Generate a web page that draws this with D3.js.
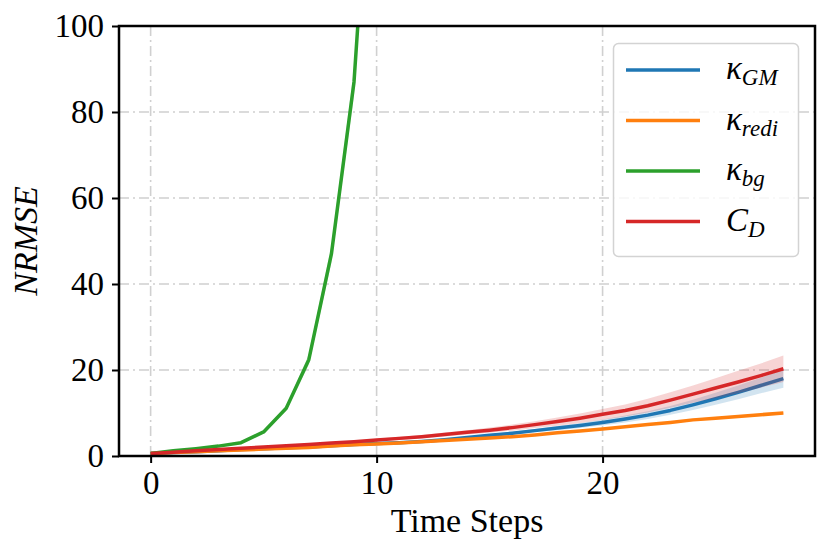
<!DOCTYPE html>
<html>
<head>
<meta charset="utf-8">
<script src="https://cdn.jsdelivr.net/npm/d3@7"></script>
<style>
  body { margin: 0; background: #fff; }
  svg { display: block; }
</style>
</head>
<body>
<div id="d1"></div>
<script>
// time steps 0..28
const steps = d3.range(0, 29);
const gm = [0.6, 0.8, 1.0, 1.2, 1.5, 1.7, 1.9, 2.1, 2.4, 2.7, 2.9, 3.1, 3.4, 3.8, 4.3,
            4.8, 5.3, 5.9, 6.5, 7.1, 7.8, 8.6, 9.5, 10.6, 11.9, 13.3, 14.8, 16.4, 18.0];
const gmSd = [0.05, 0.05, 0.05, 0.05, 0.1, 0.1, 0.1, 0.1, 0.1, 0.1, 0.15, 0.15, 0.2, 0.2, 0.25,
              0.3, 0.35, 0.4, 0.5, 0.6, 0.7, 0.8, 0.9, 1.0, 1.2, 1.4, 1.6, 1.8, 2.1];
const redi = [0.6, 0.8, 1.0, 1.2, 1.4, 1.6, 1.8, 2.0, 2.3, 2.6, 2.8, 3.0, 3.3, 3.6, 3.9,
              4.2, 4.5, 4.9, 5.4, 5.8, 6.3, 6.8, 7.3, 7.8, 8.4, 8.8, 9.2, 9.6, 10.0];
const rediSd = [0.05, 0.05, 0.05, 0.05, 0.05, 0.05, 0.05, 0.05, 0.1, 0.1, 0.1, 0.1, 0.1, 0.1, 0.1,
                0.15, 0.15, 0.15, 0.15, 0.2, 0.2, 0.2, 0.2, 0.25, 0.25, 0.25, 0.3, 0.3, 0.3];
const bgSteps = d3.range(0, 11);
const bg = [0.6, 1.2, 1.7, 2.3, 3.1, 5.6, 11.1, 22.4, 47, 87, 165];
const bgSd = [0, 0.05, 0.1, 0.1, 0.2, 0.3, 0.6, 1.2, 2, 3, 5];
const cd = [0.6, 0.9, 1.2, 1.5, 1.8, 2.1, 2.4, 2.7, 3.0, 3.3, 3.7, 4.1, 4.5, 5.0, 5.5,
            6.0, 6.6, 7.3, 8.0, 8.8, 9.7, 10.6, 11.7, 13.0, 14.4, 15.8, 17.2, 18.7, 20.3];
const cdSd = [0.05, 0.05, 0.1, 0.1, 0.1, 0.15, 0.15, 0.2, 0.2, 0.25, 0.3, 0.35, 0.4, 0.45, 0.5,
              0.6, 0.7, 0.8, 0.95, 1.1, 1.25, 1.4, 1.6, 1.8, 2.0, 2.3, 2.6, 2.8, 3.1];
const xTicks = [0, 10, 20];
const yTicks = [0, 20, 40, 60, 80, 100];

const series = [
  { name: "GM", sym: "κ", t: steps, v: gm, sd: gmSd, color: "#1f77b4" },
  { name: "redi", sym: "κ", t: steps, v: redi, sd: rediSd, color: "#ff7f0e" },
  { name: "bg", sym: "κ", t: bgSteps, v: bg, sd: bgSd, color: "#2ca02c" },
  { name: "D", sym: "C", t: steps, v: cd, sd: cdSd, color: "#d62728" }
];

const width = 830, height = 555;
const margin = { top: 26, right: 15, bottom: 99, left: 119 };
const font = "'Liberation Serif', 'Times New Roman', serif";

const x = d3.scaleLinear()
  .domain([-1.4, 29.4])
  .range([margin.left, width - margin.right]);
const y = d3.scaleLinear()
  .domain([0, 100])
  .range([height - margin.bottom, margin.top]);

const svg = d3.select("#d1").append("svg")
  .attr("width", width)
  .attr("height", height)
  .attr("viewBox", [0, 0, width, height]);

svg.append("clipPath").attr("id", "clip")
  .append("rect")
  .attr("x", margin.left).attr("y", margin.top)
  .attr("width", width - margin.left - margin.right)
  .attr("height", height - margin.top - margin.bottom);

// grid, dash-dot
const grid = svg.append("g")
  .attr("stroke", "#d0d0d0")
  .attr("stroke-width", 1.6)
  .attr("stroke-dasharray", "10,4,2,4");
grid.selectAll("line.gx").data(xTicks).join("line")
  .attr("x1", d => x(d)).attr("x2", d => x(d))
  .attr("y1", margin.top).attr("y2", height - margin.bottom);
grid.selectAll("line.gy").data(yTicks.slice(1, -1)).join("line")
  .attr("x1", margin.left).attr("x2", width - margin.right)
  .attr("y1", d => y(d)).attr("y2", d => y(d));

const plot = svg.append("g").attr("clip-path", "url(#clip)");

const area = d3.area()
  .x(d => x(d.t))
  .y0(d => y(d.v - d.sd))
  .y1(d => y(d.v + d.sd));
const line = d3.line()
  .x(d => x(d.t))
  .y(d => y(d.v));

series.forEach(s => {
  const pts = s.t.map((t, i) => ({ t: t, v: s.v[i], sd: s.sd[i] }));
  plot.append("path")
    .datum(pts)
    .attr("fill", s.color)
    .attr("fill-opacity", 0.2)
    .attr("d", area);
  plot.append("path")
    .datum(pts)
    .attr("fill", "none")
    .attr("stroke", s.color)
    .attr("stroke-width", 3.5)
    .attr("stroke-linejoin", "round")
    .attr("d", line);
});

// axes
const xAxis = g => g
  .attr("transform", `translate(0,${height - margin.bottom})`)
  .call(d3.axisBottom(x).tickValues(xTicks).tickSize(7).tickPadding(8))
  .call(g => g.select(".domain").remove());
const yAxis = g => g
  .attr("transform", `translate(${margin.left},0)`)
  .call(d3.axisLeft(y).tickValues(yTicks).tickSize(7).tickPadding(8))
  .call(g => g.select(".domain").remove());

svg.append("g").call(xAxis);
svg.append("g").call(yAxis);
svg.selectAll(".tick line").attr("stroke", "#000").attr("stroke-width", 2);
svg.selectAll(".tick text")
  .attr("font-family", font)
  .attr("font-size", 33)
  .attr("fill", "#000");

// frame
svg.append("rect")
  .attr("x", margin.left).attr("y", margin.top)
  .attr("width", width - margin.left - margin.right)
  .attr("height", height - margin.top - margin.bottom)
  .attr("fill", "none")
  .attr("stroke", "#000")
  .attr("stroke-width", 2.5);

// axis labels
svg.append("text")
  .attr("x", (x(-1.4) + x(29.4)) / 2)
  .attr("y", 532)
  .attr("text-anchor", "middle")
  .attr("font-family", font)
  .attr("font-size", 34)
  .text("Time Steps");

svg.append("text")
  .attr("transform", `translate(37,${(y(0) + y(100)) / 2}) rotate(-90)`)
  .attr("text-anchor", "middle")
  .attr("font-family", font)
  .attr("font-style", "italic")
  .attr("font-size", 34)
  .text("NRMSE");

// legend
const legend = svg.append("g");
legend.append("rect")
  .attr("x", 613.5).attr("y", 43.5)
  .attr("width", 185).attr("height", 213)
  .attr("rx", 5)
  .attr("fill", "#fff")
  .attr("fill-opacity", 0.8)
  .attr("stroke", "#d3d3d3")
  .attr("stroke-width", 1.5);

const item = legend.selectAll("g.item")
  .data(series)
  .join("g")
  .attr("transform", (d, i) => `translate(626,${70 + i * 50.5})`);
item.append("line")
  .attr("x1", 0).attr("x2", 74)
  .attr("stroke", d => d.color)
  .attr("stroke-width", 3.5);
const label = item.append("text")
  .attr("x", 100)
  .attr("y", 9)
  .attr("font-family", font)
  .attr("font-style", "italic")
  .attr("font-size", 33);
label.append("tspan").text(d => d.sym);
label.append("tspan")
  .attr("font-size", 23)
  .attr("dy", 6)
  .text(d => d.name);
</script>
</body>
</html>
